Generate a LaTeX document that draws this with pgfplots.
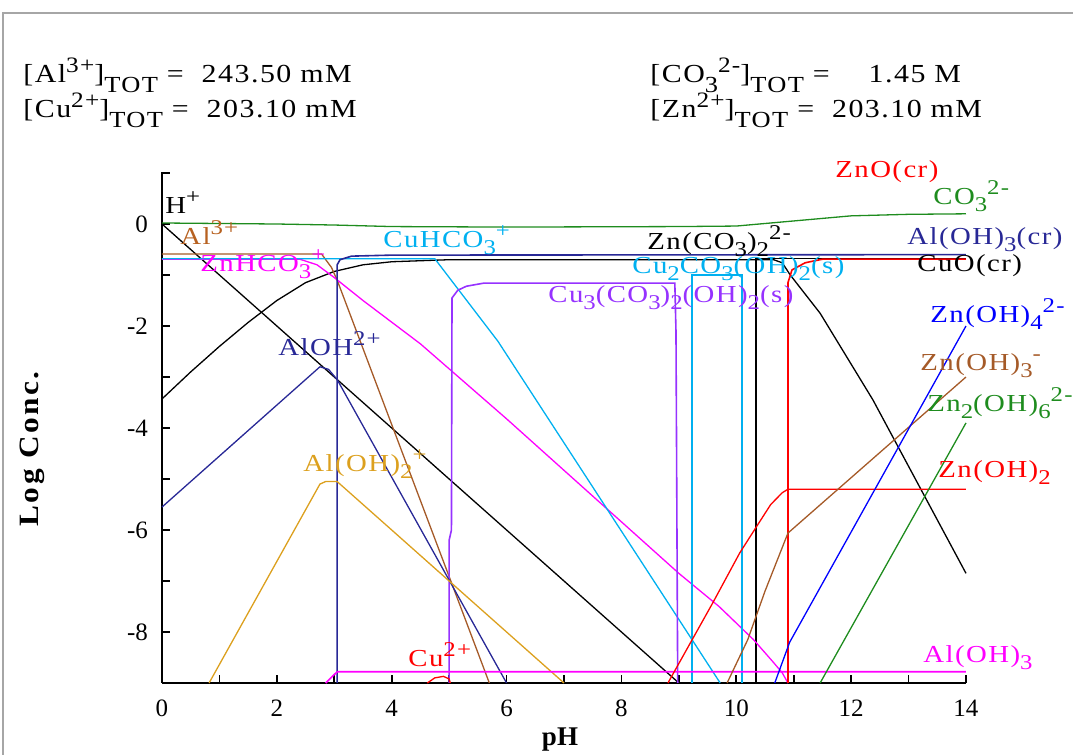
\documentclass[border=0pt]{standalone}
\usepackage{pgfplots}
\pgfplotsset{compat=1.18}
\usepackage{fontspec}
\setmainfont{Liberation Serif}
\newfontfamily\lab[LetterSpace=5]{Liberation Serif}
\newfontfamily\hdr[LetterSpace=5]{Liberation Serif}
\newfontfamily\ylab[LetterSpace=8]{Liberation Serif}
\definecolor{cgreen}{RGB}{30,140,30}
\definecolor{csky}{RGB}{0,176,240}
\definecolor{cnavy}{RGB}{40,40,150}
\definecolor{cpurple}{RGB}{150,50,255}
\definecolor{cbrown}{RGB}{165,90,40}
\definecolor{cgold}{RGB}{220,160,30}
\definecolor{cmag}{RGB}{255,0,255}
\definecolor{cred}{RGB}{255,0,0}
\definecolor{cblue}{RGB}{0,0,255}
\newcommand\sbb[1]{\raisebox{-0.28em}{\fontsize{10.5}{11}\selectfont #1}}
\newcommand\spp[1]{\raisebox{0.42em}{\fontsize{10.5}{11}\selectfont #1}}
\newcommand\hsub[1]{\raisebox{-0.35em}{\fontsize{11.5}{12}\selectfont #1}}
\newcommand\hsup[1]{\raisebox{0.42em}{\fontsize{11}{12}\selectfont #1}}
\newcommand\lbl[4]{\node[anchor=base west, inner sep=0pt, text=#1, font=\lab\fontsize{12.2}{14}\selectfont] at (#2,#3) {\scalebox{1.18}[1]{#4}};}
\newcommand\hlbl[3]{\node[anchor=base west, inner sep=0pt, text=black, font=\hdr\fontsize{13}{15}\selectfont] at (#1,#2) {\scalebox{1.15}[1]{#3}};}
\begin{document}
\begin{tikzpicture}
\begin{axis}[at={(0,0)},anchor=south west, scale only axis, width=402pt, height=255.5pt,
 xmin=0,xmax=14,ymin=-9,ymax=1.02,
 axis x line*=bottom, axis y line*=left,
 xtick={0,2,...,14}, xticklabels={0,2,4,6,8,10,12,14}, minor xtick={1,3,...,13},
 ytick={-8,-6,-4,-2,0}, yticklabels={-8,-6,-4,-2,0}, minor ytick={-7,-5,-3,-1,1},
 tick align=inside, major tick length=4pt, minor tick length=4pt,
 tick style={black, line width=0.8pt},
 axis line style={black, line width=0.8pt},
 ticklabel style={font=\fontsize{12.5}{14}\selectfont},
 xticklabel style={yshift=-5pt},
 yticklabel style={xshift=-3.5pt},
 clip=false,
 every axis plot/.append style={line width=0.65pt},
]
% CO3 2-
\addplot[cgreen] coordinates {(0,0.02)(2,0.0)(3,-0.02)(4,-0.05)(6,-0.06)(9,-0.05)(10,-0.04)(10.3,-0.01)(11,0.06)(11.5,0.11)(12,0.16)(13,0.19)(14,0.2)};
% H+
\addplot[black] coordinates {(0,0)(9,-9)};
% Zn(CO3)2 2-
\addplot[black] coordinates {(0,-3.43)(0.5,-2.9)(1,-2.4)(1.5,-1.93)(2,-1.5)(2.5,-1.15)(3,-0.93)(3.5,-0.8)(4,-0.74)(5,-0.7)(10.65,-0.7)(10.8,-0.76)(10.94,-1.0)(11.46,-1.75)(12.38,-3.45)(14,-6.85)};
% CuO(cr)
\addplot[black, line width=0.8pt] coordinates {(10.34,-9)(10.34,-0.68)(14,-0.68)};
% Al3+
\addplot[cbrown] coordinates {(0,-0.59)(2.78,-0.59)(2.95,-0.85)(3.05,-1.1)(5.7,-9)};
% ZnHCO3+
\addplot[cmag] coordinates {(0,-0.69)(2.4,-0.69)(2.7,-0.8)(3.0,-1.05)(3.5,-1.5)(4.5,-2.35)(6,-3.82)(9,-6.85)(9.7,-7.5)(10.3,-8.15)(10.65,-8.6)(10.8,-8.8)(10.9,-9)};
% CuHCO3+
\addplot[csky] coordinates {(0,-0.68)(4.75,-0.68)(5.85,-2.3)(9.72,-9)};
% Cu2CO3(OH)2(s)
\addplot[csky, line width=0.8pt] coordinates {(9.23,-9)(9.23,-1.0)(10.1,-1.0)(10.1,-9)};
% Cu3(CO3)2(OH)2(s)
\addplot[cpurple, line width=0.8pt] coordinates {(5.0,-9)(5.0,-6.2)(5.04,-6.0)(5.05,-1.45)(5.15,-1.3)(5.3,-1.22)(5.6,-1.16)(8.93,-1.16)(8.95,-2.1)(8.98,-9)};
% AlOH2+
\addplot[cnavy] coordinates {(0,-5.55)(2.75,-2.8)(2.9,-2.85)(3.05,-3.05)(6.0,-9)};
% Al(OH)3(cr)
\addplot[cnavy, line width=0.8pt] coordinates {(3.05,-9)(3.05,-0.8)(3.1,-0.7)(3.3,-0.63)(4,-0.61)(14,-0.6)};
% Al(OH)2+
\addplot[cgold] coordinates {(0.82,-9)(2.75,-5.1)(2.85,-5.05)(3.05,-5.05)(7.0,-9)};
% Cu2+
\addplot[cred] coordinates {(4.62,-9)(4.75,-8.9)(4.9,-8.87)(5.0,-8.92)(5.02,-9)};
% Al(OH)3
\addplot[cmag, line width=0.8pt] coordinates {(2.85,-9)(3.05,-8.78)(14,-8.78)};
% ZnO(cr)
\addplot[cred, line width=0.8pt] coordinates {(10.9,-9)(10.9,-1.15)(10.97,-0.9)(11.2,-0.76)(11.5,-0.69)(14,-0.69)};
% Zn(OH)2
\addplot[cred] coordinates {(8.81,-9)(9.59,-7.43)(10.06,-6.45)(10.4,-5.85)(10.6,-5.5)(10.8,-5.27)(10.9,-5.2)(14,-5.2)};
% Zn(OH)3-
\addplot[cbrown] coordinates {(9.84,-9)(10.2,-8.15)(10.5,-7.2)(10.9,-6.06)(14,-3.0)};
% Zn(OH)4 2-
\addplot[cblue] coordinates {(10.67,-9)(10.93,-8.2)(14,-2.0)};
% Zn2(OH)6 2-
\addplot[cgreen] coordinates {(11.46,-9)(14,-3.9)};
\end{axis}
\begin{scope}[x=0.5pt,y=-0.5pt,shift={(-81pt,341.5pt)}]
\draw[gray!70, line width=1.2pt] (3,755) -- (3,13) -- (1073,13);
\lbl{black}{165}{214}{H\spp{+}}
\lbl{cbrown!80!orange}{180}{245}{Al\spp{3+}}
\lbl{cmag}{200}{272}{ZnHCO\sbb{3}\spp{+}}
\lbl{csky}{383}{248}{CuHCO\sbb{3}\spp{+}}
\lbl{cnavy}{278}{356}{AlOH\spp{2+}}
\lbl{cgold}{303}{472}{Al(OH)\sbb{2}\spp{+}}
\lbl{cred}{408}{667}{Cu\spp{2+}}
\lbl{black}{647}{250}{Zn(CO\sbb{3})\sbb{2}\spp{2-}}
\lbl{csky}{632}{274}{Cu\sbb{2}CO\sbb{3}(OH)\sbb{2}(s)}
\lbl{cpurple}{548}{303}{Cu\sbb{3}(CO\sbb{3})\sbb{2}(OH)\sbb{2}(s)}
\lbl{cred}{835}{178}{ZnO(cr)}
\lbl{cgreen}{933}{205}{CO\sbb{3}\spp{2-}}
\lbl{cnavy}{907}{245}{Al(OH)\sbb{3}(cr)}
\lbl{black}{917}{272}{CuO(cr)}
\lbl{cblue}{930}{323}{Zn(OH)\sbb{4}\spp{2-}}
\lbl{cbrown}{920}{371}{Zn(OH)\sbb{3}\spp{-}}
\lbl{cgreen}{927}{412}{Zn\sbb{2}(OH)\sbb{6}\spp{2-}}
\lbl{cred}{938}{478}{Zn(OH)\sbb{2}}
\lbl{cmag}{923}{663}{Al(OH)\sbb{3}}
\hlbl{23}{83}{[Al\hsup{3+}]\hsub{TOT} = \ 243.50 mM}
\hlbl{23}{118}{[Cu\hsup{2+}]\hsub{TOT} = \ 203.10 mM}
\hlbl{650}{83}{[CO\hsub{3}\hsup{2-}]\hsub{TOT} = \quad 1.45 M}
\hlbl{650}{118}{[Zn\hsup{2+}]\hsub{TOT} = \ 203.10 mM}
\node[font=\bfseries\fontsize{13.5}{15}\selectfont, inner sep=0pt] at (560,740) {pH};
\node[font=\ylab\bfseries\fontsize{14}{16}\selectfont, inner sep=0pt, rotate=90] at (32,449) {\scalebox{1.12}[1]{Log Conc.}};
\pgfresetboundingbox
\path (0,0) rectangle (1073,755);
\end{scope}
\end{tikzpicture}
\end{document}
